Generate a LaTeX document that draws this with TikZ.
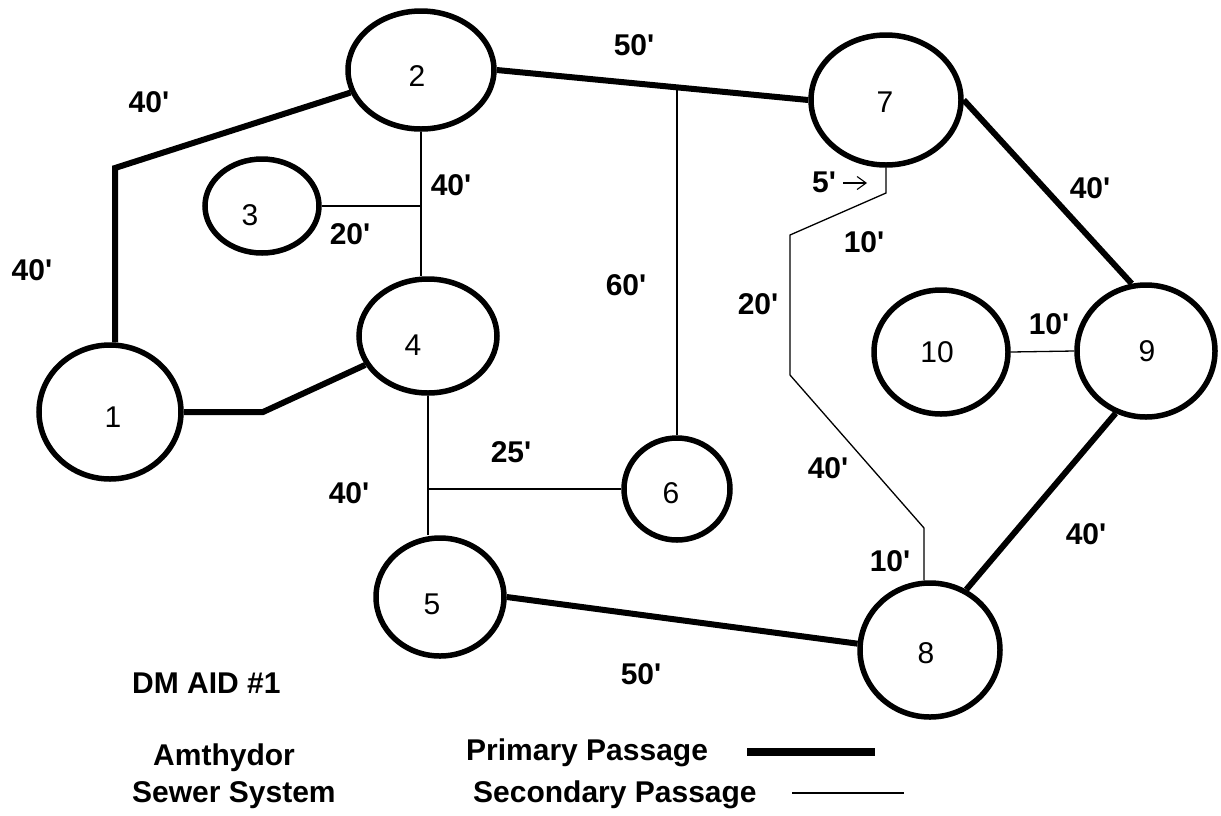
\documentclass[tikz,border=0pt]{standalone}
\usepackage{fontspec}
\setmainfont{Liberation Sans}
\usetikzlibrary{shapes.geometric,calc,arrows.meta}
\newcommand{\myq}{\textquotesingle}
\begin{document}
\begin{tikzpicture}[x=1pt,y=-1pt,
  stn/.style={ellipse,draw,line width=5.5pt,inner sep=0pt},
  prim/.style={line width=6pt},
  sec/.style={line width=1.3pt},
  lab/.style={font=\fontsize{30}{34}\selectfont\bfseries,inner sep=0pt},
  num/.style={font=\fontsize{30}{34}\selectfont,inner sep=0pt},
  txt/.style={font=\fontsize{30}{34}\selectfont\bfseries,inner sep=0pt,anchor=base west},
]
\useasboundingbox (0,0) rectangle (1221,815);

% stations
\node[stn,minimum width=142pt,minimum height=134pt,label={[num,xshift=3pt,yshift=-5pt]center:1}] (n1) at (110,412) {};
\node[stn,minimum width=146pt,minimum height=118pt,label={[num,xshift=-4pt,yshift=-6pt]center:2}] (n2) at (421,70) {};
\node[stn,minimum width=114pt,minimum height=94pt,label={[num,xshift=-12pt,yshift=-9pt]center:3}] (n3) at (262,206) {};
\node[stn,minimum width=138pt,minimum height=114pt,label={[num,xshift=-15pt,yshift=-9pt]center:4}] (n4) at (428,336) {};
\node[stn,minimum width=128pt,minimum height=118pt,label={[num,xshift=-8pt,yshift=-7pt]center:5}] (n5) at (440,597) {};
\node[stn,minimum width=106pt,minimum height=102pt,label={[num,xshift=-6pt,yshift=-4pt]center:6}] (n6) at (677,489) {};
\node[stn,minimum width=150pt,minimum height=130pt,label={[num,xshift=-1pt,yshift=-2pt]center:7}] (n7) at (886,100) {};
\node[stn,minimum width=140pt,minimum height=134pt,label={[num,xshift=-4pt,yshift=-3pt]center:8}] (n8) at (930,650) {};
\node[stn,minimum width=138pt,minimum height=132pt,label={[num,xshift=1pt]center:9}] (n9) at (1146,351) {};
\node[stn,minimum width=134pt,minimum height=124pt,label={[num,xshift=-4pt]center:10}] (n10) at (941,352) {};

% bend points
\coordinate (q12) at (115,168);
\coordinate (q14) at (263,412);
\coordinate (p1) at (886,193);
\coordinate (p2) at (790,235);
\coordinate (p3) at (790,375);
\coordinate (p4) at (924,528);
\path (n2.east) -- (n7.west) coordinate[pos=0.575] (j6);

% primary passages
\draw[prim] (q12 |- n1.north) -- (q12) -- (n2);
\draw[prim] (n1.east) -- (q14) -- (n4);
\draw[prim] (n2.east) -- (n7.west);
\draw[prim] (n7.east) -- (n9.102);
\draw[prim] (n9.244) -- (n8.59);
\draw[prim] (n5.east) -- (n8.175);

% secondary passages
\draw[sec] (n2.south) -- (n2.south |- n4.north);
\draw[sec] (n3.east) -- (n3.east -| n2.south);
\draw[sec] (n4.south) -- (n4.south |- n5.north);
\draw[sec] (n6.west) -- (n6.west -| n4.south);
\draw[sec] (n6.north) -- (n6.north |- j6);
\draw[sec] (n10.east) -- (n9.west);
\draw[sec] (n7.south) -- (p1) -- (p2) -- (p3) -- (p4) -- (p4 |- n8.north);

% distance labels
\node[lab] (l1) at (149,102) {40\myq};
\node[lab] (l2) at (32,270) {40\myq};
\node[lab] (l3) at (451,185) {40\myq};
\node[lab] (l4) at (350,234) {20\myq};
\node[lab] (l5) at (634,45) {50\myq};
\node[lab] (l6) at (626,285) {60\myq};
\node[lab] (l7) at (824,182) {5\myq};
\coordinate (a1) at (843,183);
\coordinate (a2) at (867,183);
\draw[line width=1.1pt,-{Straight Barb[length=9pt,width=13pt,line width=1.1pt]}] (a1) -- (a2);
\node[lab] (l8) at (864,242) {10\myq};
\node[lab] (l9) at (1090,188) {40\myq};
\node[lab] (l10) at (758,304) {20\myq};
\node[lab] (l11) at (1049,324) {10\myq};
\node[lab] (l12) at (349,493) {40\myq};
\node[lab] (l13) at (511,452) {25\myq};
\node[lab] (l14) at (828,468) {40\myq};
\node[lab] (l15) at (1086,534) {40\myq};
\node[lab] (l16) at (890,561) {10\myq};
\node[lab] (l17) at (641,674) {50\myq};

% titles and legend
\node[txt] (t1) at (132,693) {DM AID \#1};
\node[txt] (t2) at (153,765) {Amthydor};
\node[txt] (t3) at (132,802) {Sewer System};
\node[txt] (t4) at (466,760) {Primary Passage};
\node[txt] (t5) at (473,802) {Secondary Passage};
\coordinate (g1) at (747,752);
\coordinate (g2) at (875,752);
\coordinate (g3) at (792,793);
\coordinate (g4) at (904,793);
\draw[line width=8pt] (g1) -- (g2);
\draw[sec] (g3) -- (g4);
\end{tikzpicture}
\end{document}
